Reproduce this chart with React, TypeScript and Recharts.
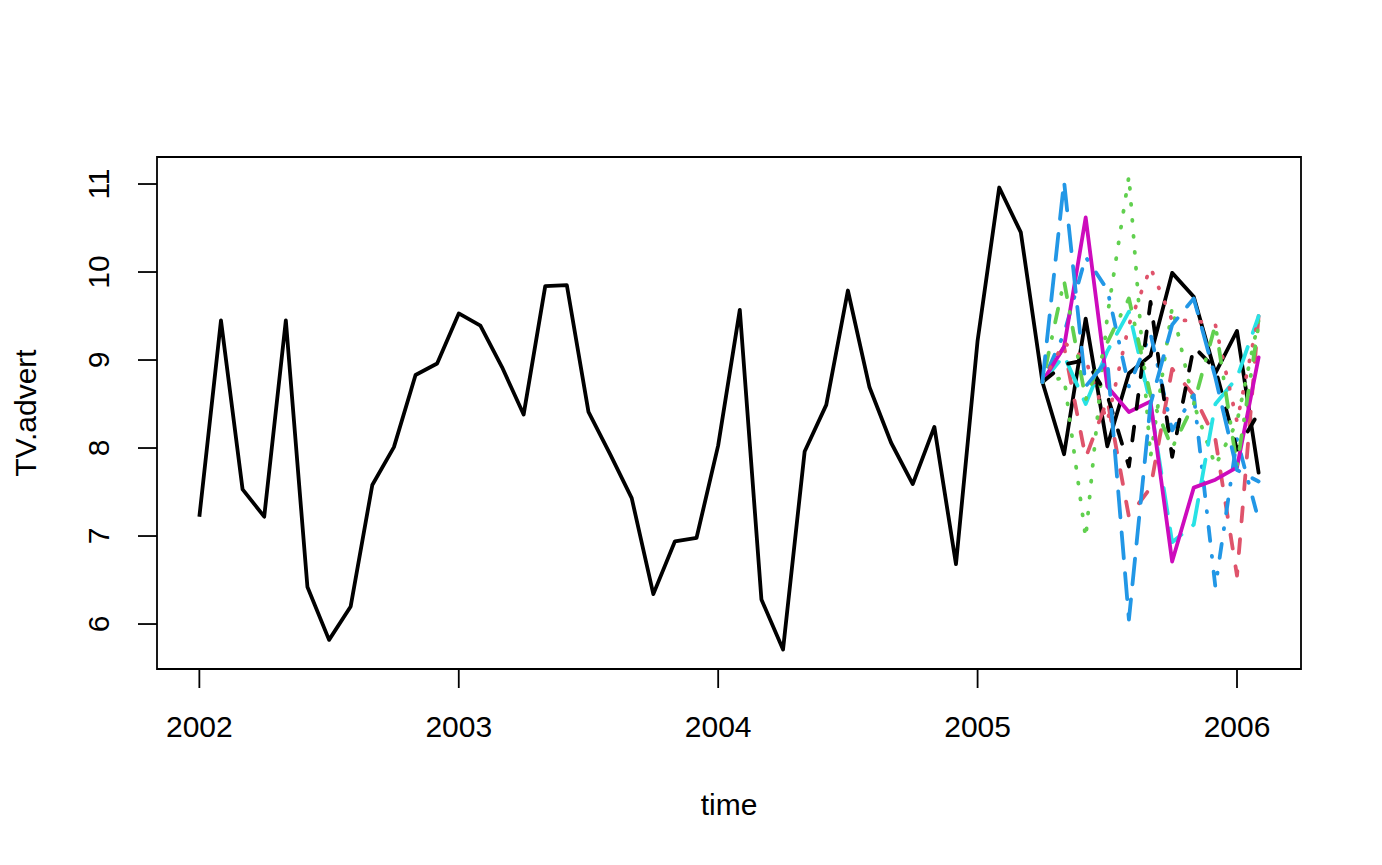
import { Label, Line, LineChart, ReferenceArea, XAxis, YAxis } from "recharts";

// monthly TV advertising, Jan 2002 .. Apr 2005
const startYear = 2002;
const tvAdvert = [
  7.22, 9.45, 7.53, 7.22, 9.45, 6.42, 5.82, 6.2, 7.58, 8.01, 8.83, 8.96,
  9.53, 9.39, 8.92, 8.38, 9.84, 9.85, 8.41, 7.93, 7.43, 6.34, 6.94, 6.98,
  8.03, 9.57, 6.28, 5.71, 7.96, 8.49, 9.79, 8.69, 8.06, 7.59, 8.24, 6.68,
  9.22, 10.96, 10.45, 8.75,
];

// simulated future paths, May 2005 .. Feb 2006
const sim1 = [7.93, 9.47, 8.02, 8.85, 9.05, 9.99, 9.72, 8.85, 9.33, 7.72];
const sim2 = [9.15, 7.89, 8.55, 7.22, 7.55, 8.9, 8.6, 8.1, 6.55, 9.5];
const sim3 = [8.8, 6.98, 9.5, 11.09, 7.9, 9.6, 8.5, 7.8, 8.3, 9.45];
const sim4 = [9.3, 10.17, 9.8, 8.7, 9.3, 8.2, 8.6, 6.42, 8.1, 7.18];
const sim5 = [9.05, 8.5, 9.1, 9.55, 8.5, 6.93, 7.13, 8.5, 8.8, 9.5];
const sim6 = [9.15, 10.62, 8.7, 8.41, 8.53, 6.71, 7.55, 7.64, 7.78, 9.03];
const sim7 = [8.95, 9.0, 8.6, 7.79, 9.66, 7.9, 9.15, 8.9, 7.98, 8.4];
const sim8 = [9.2, 9.0, 8.3, 9.4, 10.05, 9.45, 9.45, 9.4, 8.3, 9.5];
const sim9 = [9.9, 8.55, 9.2, 9.7, 8.6, 8.0, 8.5, 9.4, 7.8, 9.4];
const sim10 = [11.03, 8.7, 9.0, 6.05, 8.5, 9.4, 9.7, 8.8, 7.75, 7.62];

const simPaths = [sim1, sim2, sim3, sim4, sim5, sim6, sim7, sim8, sim9, sim10];
const palette = ["#000000", "#DF536B", "#61D04F", "#2297E6", "#28E2E5", "#CD0BBC"];
const dashes = ["", "14 18", "1 15", "1 15 14 15", "26 15"];

const xTicks = [2002, 2003, 2004, 2005, 2006];
const yTicks = [6, 7, 8, 9, 10, 11];
const xDomain = [2001.8367, 2006.2467];
const yDomain = [5.489, 11.307];

const toSeries = (vals: number[], t0: number) =>
  vals.map((v, i) => ({ t: t0 + i / 12, v }));

const observed = toSeries(tvAdvert, startYear);
const lastObs = observed[observed.length - 1];
const simSeries = simPaths.map((p) => toSeries([lastObs.v, ...p], lastObs.t));

const font = "'Liberation Sans', Arial, Helvetica, sans-serif";

const YTick = (props: any) => {
  const { x, y, payload } = props;
  return (
    <text
      x={x}
      y={y}
      dy="0.36em"
      textAnchor="middle"
      transform={`rotate(-90, ${x}, ${y})`}
      fontSize={30}
      fontFamily={font}
      fill="#000"
    >
      {payload.value}
    </text>
  );
};

export default function App() {
  return (
    <div style={{ position: "absolute", left: 0, top: 0, background: "#fff" }}>
      <LineChart
        width={1382}
        height={865}
        margin={{ top: 157, right: 81, bottom: 136, left: 57 }}
      >
        <XAxis
          dataKey="t"
          type="number"
          domain={xDomain}
          allowDataOverflow
          ticks={xTicks}
          tickFormatter={(v: number) => String(Math.round(v))}
          axisLine={false}
          tickLine={{ stroke: "#000", strokeWidth: 1.8 }}
          tickSize={19}
          tickMargin={28}
          height={60}
          tick={{ fill: "#000", fontSize: 30, fontFamily: font }}
        >
          <Label
            content={(p: any) => {
              const vb = p.viewBox;
              return (
                <text
                  x={vb.x + vb.width / 2}
                  y={vb.y + 146}
                  textAnchor="middle"
                  fontSize={30}
                  fontFamily={font}
                  fill="#000"
                >
                  time
                </text>
              );
            }}
          />
        </XAxis>
        <YAxis
          type="number"
          domain={yDomain}
          allowDataOverflow
          ticks={yTicks}
          axisLine={false}
          tickLine={{ stroke: "#000", strokeWidth: 1.8 }}
          tickSize={19}
          tickMargin={40}
          width={100}
          tick={<YTick />}
        >
          <Label
            content={(p: any) => {
              const vb = p.viewBox;
              const cx = vb.x - 32;
              const cy = vb.y + vb.height / 2;
              return (
                <text
                  x={cx}
                  y={cy}
                  dy="0.36em"
                  textAnchor="middle"
                  transform={`rotate(-90, ${cx}, ${cy})`}
                  fontSize={30}
                  fontFamily={font}
                  fill="#000"
                >
                  TV.advert
                </text>
              );
            }}
          />
        </YAxis>
        <ReferenceArea
          x1={xDomain[0]}
          x2={xDomain[1]}
          y1={yDomain[0]}
          y2={yDomain[1]}
          fill="none"
          stroke="#000"
          strokeWidth={1.8}
          ifOverflow="visible"
        />
        <Line
          data={observed}
          dataKey="v"
          type="linear"
          stroke="#000"
          strokeWidth={3.8}
          strokeLinejoin="round"
          dot={false}
          isAnimationActive={false}
        />
        {simSeries.map((s, i) => (
          <Line
            key={i}
            data={s}
            dataKey="v"
            type="linear"
            stroke={palette[i % palette.length]}
            strokeDasharray={dashes[i % dashes.length]}
            strokeWidth={3.8}
            strokeLinecap="round"
            strokeLinejoin="round"
            dot={false}
            isAnimationActive={false}
          />
        ))}
      </LineChart>
    </div>
  );
}
